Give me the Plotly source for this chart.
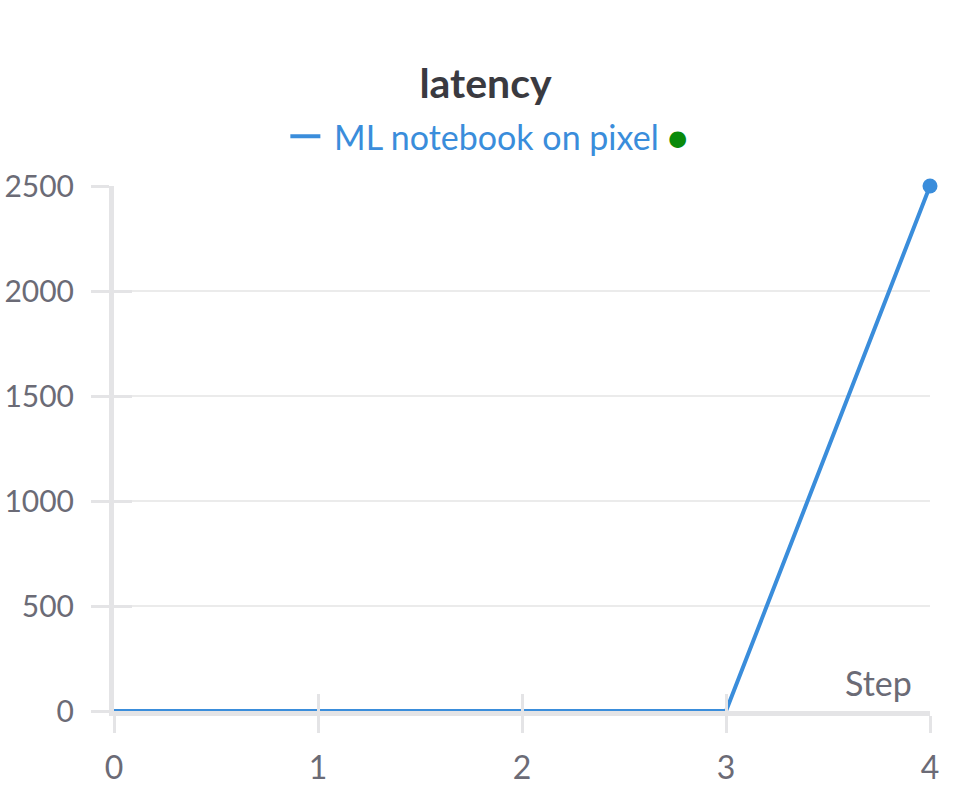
import plotly.graph_objects as go

steps = [0, 1, 2, 3, 4]
latency = [0, 0, 0, 0, 2500]
series_name = "ML notebook on pixel"
x_ticks = [0, 1, 2, 3, 4]
y_ticks = [0, 500, 1000, 1500, 2000, 2500]

BLUE = "#3a8ddb"
GRAY_TXT = "#6b6b76"
AXIS_GRAY = "#e4e4e6"
FONT = "Lato"

fig = go.Figure()
fig.add_trace(go.Scatter(
    x=steps, y=latency, mode="lines",
    line=dict(color=BLUE, width=4),
    name="\u00a0" + series_name + " <span style='color:#0a8a0a'>●</span>",
    cliponaxis=False,
))
fig.add_trace(go.Scatter(
    x=steps[-1:], y=latency[-1:], mode="markers",
    marker=dict(color=BLUE, size=15),
    showlegend=False, cliponaxis=False,
))
# invisible trace on overlay axes for inside ticks
fig.add_trace(go.Scatter(x=steps, y=latency, xaxis="x2", yaxis="y2",
                         mode="lines", line=dict(width=0), opacity=0,
                         showlegend=False, hoverinfo="skip"))

fig.update_layout(
    width=971, height=785,
    margin=dict(l=114, r=41, t=186, b=74, autoexpand=False),
    paper_bgcolor="white", plot_bgcolor="white",
    font=dict(family=FONT, size=32, color=GRAY_TXT),
    title=dict(text="<b>latency</b>", x=0.5, xref="container", xanchor="center",
               y=0.894, yanchor="middle",
               font=dict(family=FONT, size=41, color="#3a3a40")),
    showlegend=True,
    legend=dict(orientation="h", x=0.46, xanchor="center", y=1.094, yanchor="middle",
                font=dict(family=FONT, size=34, color=BLUE)),
    xaxis=dict(range=[0, 4], tickvals=x_ticks, showgrid=False, zeroline=False,
               showline=True, linewidth=5, linecolor=AXIS_GRAY, automargin=False,
               ticks="outside", ticklen=17, tickwidth=3, tickcolor=AXIS_GRAY,
               tickfont=dict(size=32, color=GRAY_TXT), ticklabelstandoff=8),
    yaxis=dict(range=[0, 2500], tickvals=y_ticks, showgrid=True, gridcolor="#ebebeb",
               gridwidth=1.5, zeroline=False, automargin=False,
               showline=True, linewidth=5, linecolor=AXIS_GRAY,
               ticks="outside", ticklen=18, tickwidth=3, tickcolor=AXIS_GRAY,
               tickfont=dict(size=30, color=GRAY_TXT), ticklabelstandoff=11),
    xaxis2=dict(range=[0, 4], tickvals=x_ticks, overlaying="x", side="bottom",
                showgrid=False, zeroline=False, showline=False, showticklabels=False,
                automargin=False,
                ticks="inside", ticklen=17, tickwidth=3, tickcolor=AXIS_GRAY),
    yaxis2=dict(range=[0, 2500], tickvals=y_ticks, overlaying="y", side="left",
                showgrid=False, zeroline=False, showline=False, showticklabels=False,
                automargin=False,
                ticks="inside", ticklen=18, tickwidth=3, tickcolor=AXIS_GRAY),
    annotations=[dict(text="Step", xref="paper", yref="paper", x=0.98, y=0.012,
                      xanchor="right", yanchor="bottom", showarrow=False,
                      font=dict(family=FONT, size=34, color=GRAY_TXT))],
)

fig.write_html("out.html", config={"displayModeBar": False},
               post_script="document.body.style.margin='0';")
